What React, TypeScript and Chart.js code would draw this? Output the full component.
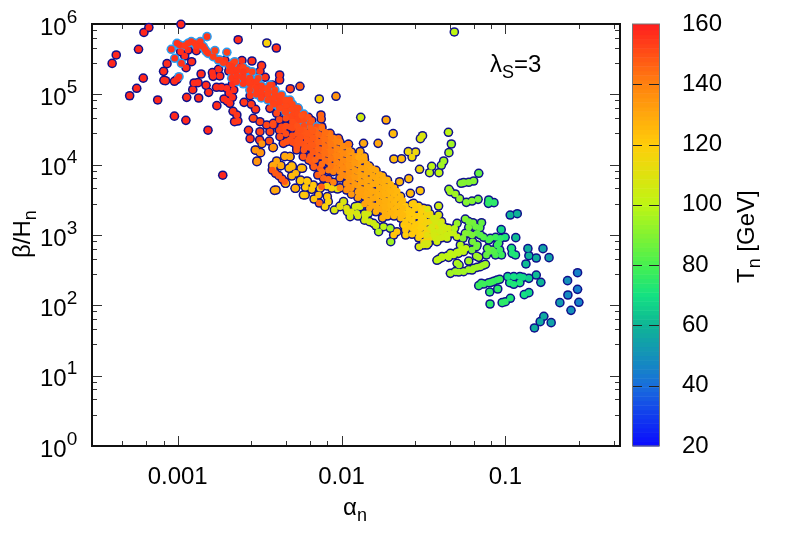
import React, { useEffect, useRef } from "react";
import { Chart, registerables } from "chart.js";
Chart.register(...registerables);

// each row: log10(alpha_n), log10(beta/H_n), T_n [GeV]
const ridgePoints: number[][] = [
[-3.039,5.64,156],[-3.004,5.725,156],[-2.988,5.701,156],[-2.957,5.692,155],[-2.917,5.749,155],[-2.896,5.725,155],[-2.862,5.749,155],[-2.821,5.82,155],[-2.844,5.678,155],[-3.018,5.512,156],[-2.977,5.44,156],[-2.992,5.251,157],[-2.773,5.621,153],[-2.7,5.597,153],[-2.825,5.607,153],[-2.743,5.488,153],[-2.662,5.441,153],[-2.631,5.346,153],[-2.58,5.346,153],[-2.61,5.251,153],[-2.56,5.227,153],[-2.539,5.133,153],[-2.478,5.085,153],[-2.448,5.038,152],[-2.407,5.062,152],[-2.376,4.943,152],[-2.346,4.896,152],[-2.315,4.848,152],[-2.274,4.777,151],[-2.234,4.682,151],[-2.193,4.588,150],[-2.152,4.54,150],
[-2.652,5.464,153],[-2.6,5.384,153],[-2.546,5.322,153],[-2.508,5.227,153],[-2.437,5.133,153],[-2.366,4.991,152],[-2.315,4.919,152],[-2.264,4.801,151],
];
const ridgeCore: number[][] = [
[-2.641,5.322,154],[-2.6,5.275,154],[-2.58,5.18,154],[-2.549,5.18,154],[-2.518,5.038,153],[-2.437,4.943,153],[-2.417,4.872,153],[-2.376,4.825,152],[-2.335,4.777,152],[-2.294,4.706,151],[-2.254,4.635,151],
[-2.937,5.725,155],[-2.886,5.687,155],[-2.855,5.687,155],[-2.834,5.64,155],[-2.814,5.583,155],[-2.783,5.535,154],[-2.752,5.488,154],[-2.722,5.45,154],[-2.681,5.403,154],
];
const ridgeColA = [-2.67,-2.64,-2.6,-2.56,-2.52,-2.49,-2.45,-2.41,-2.38,-2.34,-2.3,-2.27,-2.23];
const ridgeColB = [
[5.4,5.32,5.23],[5.35,5.26,5.18],[5.32,5.23,5.15],[5.23,5.15,5.06],[5.18,5.09,5.0],[5.12,5.03,4.95],[5.09,5.0,4.92],[5.03,4.95,4.86],[4.98,4.89,4.81],[4.92,4.83,4.75],[4.86,4.78,4.69],[4.81,4.72,4.64],[4.72,4.64,4.55],
];
const ridgeColT = [155,155,155,154,154,154,153,153,153,152,152,152,151];
const bandColA = [-2.38,-2.34,-2.3,-2.27,-2.23,-2.19,-2.16,-2.12,-2.08,-2.05,-2.01,-1.97,-1.94,-1.9,-1.86,-1.83,-1.79,-1.75,-1.72,-1.68,-1.64,-1.61,-1.57,-1.53,-1.5,-1.46,-1.42,-1.39];
const bandColB = [
[4.64,4.49],[4.66,4.55,4.44],[4.61,4.52,4.41,4.32],[4.55,4.44,4.35,4.27],[4.49,4.41,4.29,4.21],[4.52,4.44,4.32,4.24,4.12],[4.49,4.38,4.27,4.18,4.07],[4.52,4.41,4.32,4.21,4.12,4.01,3.9],[4.44,4.35,4.24,4.15,4.04,3.92],[4.38,4.29,4.18,4.09,3.98,3.9,3.75],[4.32,4.21,4.12,4.01,3.9,3.81,3.67],[4.27,4.15,4.04,3.95,3.84,3.73,3.64],[4.18,4.07,3.98,3.87,3.78,3.67,3.58],[4.12,4.01,3.9,3.81,3.7,3.61,3.53],[4.07,3.95,3.84,3.75,3.64,3.55,3.44],[3.98,3.9,3.78,3.67,3.58,3.47,3.38],[3.92,3.81,3.73,3.61,3.53,3.41,3.33],[3.84,3.75,3.64,3.55,3.44,3.36,3.24],[3.78,3.67,3.58,3.47,3.38,3.27],[3.67,3.58,3.47,3.36,3.27],[3.55,3.44,3.33,3.24],[3.41,3.3,3.19,3.07],[3.44,3.33,3.21,3.1,3.01],[3.41,3.27,3.16,3.04,2.96],[3.36,3.24,3.13,3.01,2.9],[3.3,3.19,3.07,2.96],[3.24,3.13,3.01],[3.19,3.07,2.96],
];
const bandColT = [152,151,151,150,149,148,146,144,142,140,138,136,134,132,131,130,129,128,127,126,125,122,121,119,117,114,112,109];
const innerColA = [-2.25,-2.21,-2.175,-2.14,-2.1,-2.065,-2.03,-1.99,-1.955,-1.92,-1.88,-1.845,-1.81,-1.77,-1.735,-1.7,-1.66,-1.625,-1.59,-1.55,-1.515,-1.48,-1.44,-1.405];
const innerColB = [
[4.5,4.39,4.31],[4.45,4.35,4.25],[4.48,4.38,4.28,4.18],[4.43,4.32,4.22,4.12],[4.46,4.36,4.26,4.16,4.06],[4.39,4.29,4.19,4.09,3.98],[4.33,4.23,4.13,4.03,3.94],[4.26,4.16,4.06,3.95,3.85],[4.21,4.09,3.99,3.89,3.78,3.68],[4.12,4.02,3.92,3.82,3.72],[4.06,3.95,3.85,3.75,3.65,3.57],[4.01,3.89,3.79,3.69,3.59,3.49],[3.94,3.84,3.72,3.62,3.52,3.42],[3.86,3.77,3.67,3.57,3.47,3.37],[3.79,3.69,3.59,3.49,3.4,3.3],[3.72,3.62,3.52,3.42,3.32],[3.62,3.52,3.41,3.31],[3.49,3.38,3.28],[3.35,3.24,3.13],[3.38,3.27,3.15,3.05],[3.34,3.21,3.1,3.0],[3.3,3.18,3.07,2.95],[3.24,3.13,3.01],[3.18,3.07],
];
const innerColT = [150,149,148,146,144,142,140,138,136,134,132,131,130,129,128,127,126,125,122,121,119,117,114,112];
const yellowStrand: number[][] = [
[-2.01,3.41,112],[-1.97,3.38,110],[-1.94,3.33,110],[-1.9,3.41,108],[-1.9,3.27,108],[-1.86,3.3,106],[-1.86,3.21,106],[-1.83,3.19,105],[-1.79,3.13,104],
];
const redScatter: number[][] = [
[-3.4,5.44,158],[-3.375,5.56,158],[-3.239,5.64,158],[-3.206,5.88,158],[-3.176,5.95,158],[-2.98,5.995,158],[-3.293,4.98,158],[-3.25,5.086,158],[-3.21,5.23,158],[-3.122,4.92,158],[-3.02,4.69,158],[-2.95,4.63,158],[-2.815,4.49,158],[-2.725,3.85,158],
[-3.065,5.436,157],[-3.086,5.327,157],[-3.084,5.199,157],[-3.074,5.194,157],[-3.02,5.185,157],[-3.004,5.213,157],[-2.982,5.607,157],[-2.937,5.63,157],[-2.886,5.621,157],[-2.957,5.545,157],[-2.915,5.464,157],[-2.949,5.379,157],[-2.857,5.289,157],[-2.945,4.957,157],[-2.908,5.066,157],[-2.9,5.161,157],[-2.876,5.166,157],[-2.872,4.948,157],[-2.827,5.128,157],[-2.811,5.028,157],[-2.761,4.839,157],[-2.763,5.1,157],[-2.733,5.1,157],[-2.7,5.085,157],[-2.666,5.147,157],[-2.658,5.062,157],[-2.686,5.014,157],[-2.666,4.957,157],[-2.717,4.934,157],[-2.698,4.905,157],[-2.682,4.872,157],[-2.788,5.308,157],[-2.784,5.256,157],[-2.743,5.261,157],[-2.751,5.355,157],[-2.712,5.483,156],[-2.688,5.417,156],[-2.688,5.332,156],[-2.62,5.393,156],[-2.608,5.479,156],[-2.547,5.474,156],[-2.488,5.408,155],[-2.498,5.327,155],[-2.466,5.242,155],[-2.378,5.275,155],[-2.378,5.204,155],[-2.423,5.133,155],[-2.505,5.118,155],[-2.493,5.014,155],[-2.482,4.991,155],[-2.558,4.981,155],[-2.595,4.886,155],[-2.551,4.858,155],[-2.525,4.787,155],[-2.662,4.758,155],[-2.639,4.706,155],[-2.653,4.611,155],[-2.633,4.621,155],[-2.568,4.488,155],[-2.558,4.37,155],[-2.5,4.351,152],[-2.631,5.777,157],[-2.398,5.659,156],[-2.313,5.08,153],[-2.254,5.114,148],
];
const outliers: number[][] = [
[-2.034,4.972,135],[-2.456,5.73,118],[-2.136,4.934,118],[-2.486,4.299,135],[-2.441,4.336,150],[-2.419,4.242,135],[-2.523,4.204,135],[-2.497,4.17,135],[-2.517,4.043,135],[-1.312,5.887,100],
];
const orangeLower: number[][] = [
[-2.413,3.995,133],[-2.37,3.986,133],[-2.417,3.924,133],[-2.347,4.114,131],[-2.315,4.114,128],[-2.318,3.953,128],[-2.3,3.972,128],[-2.238,3.948,125],[-2.28,3.877,126],[-2.25,3.782,125],[-2.208,3.758,124],[-2.28,3.664,125],[-2.222,3.569,125],[-2.41,3.635,130],[-2.341,3.735,128],
[-2.515,4.052,135],[-2.527,4.209,135],[-2.494,4.171,135],[-2.4,3.64,130],[-2.416,4.246,130],[-2.346,4.123,130],[-2.315,4.114,130],[-2.396,4.052,130],[-2.372,3.986,130],[-2.421,3.986,130],[-2.343,3.735,128],[-2.284,3.664,128],[-2.321,3.948,125],[-2.304,3.986,125],[-2.247,3.948,125],[-2.304,3.839,125],[-2.252,3.768,122],[-2.211,3.768,122],[-2.221,3.678,122],[-2.172,3.711,122],[-2.233,3.569,122],[-2.182,3.649,122],[-2.168,3.512,122],[-2.131,3.664,122],[-2.141,3.569,125],[-2.087,3.545,122],[-2.101,3.403,118],[-2.081,3.474,118],[-2.09,3.697,118],[-2.06,3.664,118],[-2.025,3.654,110],[-2.044,3.355,108],[-2.009,3.403,108],[-1.988,3.474,108],[-1.964,3.332,108],[-1.948,3.261,105],[-1.917,3.403,105],[-1.887,3.403,105],[-1.907,3.308,105],[-1.856,3.261,105],[-1.805,3.166,105],[-1.836,3.308,105],[-1.774,3.047,98],[-1.744,3.118,100],[-1.703,3.095,95],[-1.7,2.905,95],
];
const redStreaks: number[][] = [
[-2.423,3.924,148],[-2.403,3.877,148],[-2.383,3.844,148],[-2.363,3.796,148],[-2.347,3.758,148],[-2.136,3.455,145],[-2.081,3.791,145],[-2.2,4.066,147],[-2.169,3.972,147],[-2.145,3.853,147],[-2.122,3.687,147],
];
const redBand: number[][] = [
[-2.437,4.801,152],[-2.396,4.73,152],[-2.376,4.801,152],[-2.346,4.754,152],[-2.315,4.682,152],[-2.243,4.701,150],[-2.202,4.673,150],[-2.182,4.626,149],[-2.126,4.706,146],[-2.124,4.649,146],
[-2.539,4.659,152],[-2.498,4.611,152],[-2.457,4.564,152],[-2.417,4.564,152],[-2.366,4.54,152],[-2.315,4.54,151],[-2.264,4.493,150],[-2.213,4.445,149],[-2.162,4.469,148],[-2.121,4.54,147],[-2.07,4.445,145],[-2.019,4.374,143],[-1.958,4.289,140],
[-2.498,4.469,152],[-2.437,4.469,152],[-2.376,4.398,151],[-2.335,4.327,150],[-2.284,4.303,150],[-2.223,4.256,149],[-2.152,4.303,148],[-2.111,4.398,147],[-2.07,4.303,145],[-2.019,4.209,143],[-1.968,4.161,141],[-1.907,4.09,138],
[-2.274,4.209,149],[-2.234,4.114,149],[-2.182,4.043,148],[-2.131,3.948,147],[-2.111,3.806,146],[-2.091,4.209,146],[-2.04,4.09,144],[-1.989,3.972,142],[-1.938,3.829,140],
[-2.417,4.588,151],[-2.356,4.493,151],[-2.295,4.588,150],[-2.254,4.445,150],[-2.213,4.398,149],[-2.315,4.351,150],[-2.356,4.303,150],[-2.274,4.256,150],
];
const yellowBlob: number[][] = [
[-1.5,3.379,120],[-1.56,3.45,121],[-1.519,3.284,120],[-1.57,3.213,120],[-1.621,3.142,121],[-1.662,3.047,122],[-1.682,3,122],[-1.609,3,120],[-1.55,3.118,118],[-1.499,3.213,117],[-1.581,3.308,121],[-1.468,3.284,115],[-1.609,3.095,120],
];
const yellowGreen: number[][] = [
[-1.438,3.213,112],[-1.397,3.142,110],[-1.459,3.095,112],[-1.418,3.047,110],[-1.377,3.047,108],[-1.479,3,112],[-1.346,3.095,105],
[-1.526,2.834,108],[-1.479,2.858,107],[-1.418,2.905,105],[-1.356,2.953,103],[-1.295,2.976,102],[-1.387,2.692,100],[-1.336,2.739,100],[-1.285,2.763,98],[-1.295,2.597,98],[-1.275,2.858,98],
[-1.489,2.882,107],[-1.428,2.953,105],[-1.377,2.976,105],[-1.336,3.024,105],[-1.438,3.047,105],[-1.388,3.118,105],[-1.438,3.237,105],[-1.398,3.166,105],[-1.357,3.095,105],
[-1.5,2.858,107],[-1.47,2.882,107],[-1.408,2.953,105],[-1.357,3,104],[-1.316,3.024,102],[-1.438,3,106],[-1.398,3.047,105],[-1.448,3.118,107],[-1.428,3.19,107],[-1.377,3.118,105],[-1.408,3.284,108],
];
const upperRight: number[][] = [
[-1.883,4.673,105],[-1.728,4.635,130],[-1.685,4.441,125],[-1.506,4.412,108],[-1.519,4.37,108],[-1.348,4.46,100],[-1.33,4.294,95],[-1.345,4.171,97],[-1.377,4.052,95],[-1.391,3.991,95],[-1.406,3.886,100],[-1.45,3.976,100],[-1.463,3.886,100],[-1.593,4.185,115],[-1.548,4.18,115],[-1.57,4.109,115],[-1.681,4.081,125],[-1.634,4.085,125],[-1.777,4.303,130],[-1.866,4.303,130],[-1.887,4.185,130],[-1.862,4.114,130],[-1.896,4.104,130],[-1.958,4.289,140],[-1.524,3.934,115],[-1.59,3.801,125],[-1.646,3.758,125],[-1.58,3.592,125],[-1.52,3.63,122],[-1.408,3.412,105],[-1.475,3.37,110],
[-1.163,3.877,85],[-1.194,3.768,90],[-1.224,3.749,90],[-1.255,3.744,90],[-1.271,3.735,90],[-1.345,3.649,95],[-1.337,3.616,95],[-1.306,3.583,95],[-1.28,3.517,93],[-1.239,3.464,90],[-1.204,3.483,90],[-1.167,3.507,88],[-1.102,3.498,75],[-1.104,3.45,75],[-1.07,3.46,75],[-0.971,3.284,60],[-0.928,3.303,60],
];
const greenCluster: number[][] = [
[-1.295,3.166,93],[-1.245,3.227,90],[-1.198,3.175,88],[-1.146,3.175,85],[-1.224,3.109,88],[-1.156,3.104,85],[-1.173,3.024,85],[-1.224,3.024,88],[-1.259,2.953,90],[-1.2,2.905,88],[-1.177,2.834,88],[-1.133,2.967,82],[-1.102,2.929,80],[-1.06,2.967,78],[-1.002,2.967,72],[-1.03,2.953,75],[-1.05,2.858,78],[-1.035,2.787,78],[-1.024,2.716,78],[-1.061,2.716,80],[-1.102,2.763,85],[-1.116,2.716,85],[-1.081,2.787,85],[-1.31,3.095,98],
[-1.336,2.455,95],[-1.285,2.474,95],[-1.255,2.479,95],[-1.224,2.507,95],[-1.194,2.526,95],[-1.153,2.55,95],[-1.122,2.583,95],[-1.283,2.573,95],[-1.224,2.63,95],[-1.177,2.701,95],[-1.163,2.682,95],
[-1.418,2.64,100],[-1.388,2.678,100],[-1.357,2.701,100],[-1.327,2.725,100],[-1.297,2.754,100],[-1.266,2.796,100],[-1.241,2.81,100],
[-1.224,3.19,88],[-1.183,3.118,86],[-1.245,3.024,90],[-1.204,3,88],[-1.153,3,83],[-1.092,2.953,80],[-1.071,2.763,82],[-1.041,2.882,78],[-1.11,2.81,85],[-1.204,2.787,88],[-1.173,2.858,87],[-1.316,2.716,100],[-1.286,2.739,100],[-1.255,2.763,100],[-1.347,2.682,100],[-1.408,2.654,100],[-1.306,2.479,95],[-1.204,2.502,95],[-1.173,2.54,95],[-1.137,2.569,95],
];
const tealTail: number[][] = [
[-1.026,3.076,68],[-0.937,2.962,62],[-0.863,2.806,58],[-0.857,2.706,60],[-0.812,2.673,58],[-0.771,2.806,55],[-0.734,2.678,55],[-0.875,2.588,62],[-0.939,2.716,72],[-0.959,2.739,72],[-0.963,2.81,72],
[-0.56,2.464,46],[-0.621,2.351,50],[-0.56,2.227,45],[-0.619,2.147,48],[-0.552,2.043,46],[-0.668,2.038,53],[-0.6,1.929,50],[-0.766,1.844,57],[-0.788,1.768,57],[-0.721,1.754,55],[-0.823,1.678,58],
[-0.986,2.408,68],[-0.949,2.408,70],[-0.912,2.408,68],[-0.892,2.398,68],[-0.857,2.384,65],[-0.812,2.431,62],[-0.784,2.327,60],[-0.974,2.322,72],[-0.949,2.299,72],[-0.912,2.322,72],
[-1.163,2.28,78],[-1.147,2.313,78],[-1.133,2.303,78],[-1.102,2.322,78],[-1.088,2.327,78],[-1.072,2.341,78],[-1.051,2.36,76],[-1.035,2.37,78],[-1.096,2.19,75],[-1.047,2.232,75],[-1.094,2.019,75],[-1.02,2.038,75],[-1,2.052,75],[-0.97,2.1,72],[-0.885,2.152,70],[-0.857,2.18,68],
];

const paletteT = [20, 40, 60, 70, 80, 100, 120, 140, 160];
const paletteR = [10, 25, 15, 20, 70, 190, 255, 255, 255];
const paletteG = [10, 110, 180, 225, 240, 245, 205, 130, 30];
const paletteB = [255, 220, 150, 130, 80, 20, 10, 15, 30];
const xMajor = [0.001, 0.01, 0.1];
const xMinorFactors = [2.8, 4.6, 6.4, 8.2];
const yExponents = [0, 1, 2, 3, 4, 5, 6];
const FONT = '"Liberation Sans"';

function color(t: number): string {
  let i = 0;
  while (i < paletteT.length - 2 && t > paletteT[i + 1]) i++;
  const f = Math.max(0, Math.min(1, (t - paletteT[i]) / (paletteT[i + 1] - paletteT[i])));
  const m = (c: number[]) => Math.round(c[i] + (c[i + 1] - c[i]) * f);
  return `rgb(${m(paletteR)},${m(paletteG)},${m(paletteB)})`;
}
const toXY = (p: number[]) => ({ x: Math.pow(10, p[0]), y: Math.pow(10, p[1]) });
const columns = (a: number[], b: number[][], t: number[]) =>
  a.flatMap((la, i) => b[i].map((lb) => [la, lb, t[i]]));

// text runs: [text, size, baseline shift]
function runs(ctx: any, x: number, y: number, parts: [string, number, number][], rot = 0) {
  ctx.save();
  ctx.translate(x, y);
  ctx.rotate(rot);
  ctx.fillStyle = "#000";
  ctx.textAlign = "left";
  ctx.textBaseline = "alphabetic";
  let cx = 0;
  for (const [t, s, d] of parts) {
    ctx.font = `${s}px ${FONT}`;
    ctx.fillText(t, cx, d);
    cx += ctx.measureText(t).width;
  }
  ctx.restore();
}

const artPlugin = {
  id: "art",
  beforeDatasetsDraw(chart: any) {
    const { ctx, chartArea: a, scales } = chart;
    const { x, y, y2 } = scales;
    ctx.save();
    ctx.strokeStyle = "#333";
    ctx.lineWidth = 1;
    ctx.beginPath();
    for (const m of [0.0001, ...xMajor]) {
      [1, ...xMinorFactors].forEach((f, i) => {
        const v = m * f;
        if (v < x.min || v > x.max) return;
        const px = Math.round(x.getPixelForValue(v)) + 0.5;
        const len = i === 0 ? 10 : 5;
        ctx.moveTo(px, a.bottom); ctx.lineTo(px, a.bottom - len);
        ctx.moveTo(px, a.top); ctx.lineTo(px, a.top + len);
      });
    }
    for (const e of yExponents) {
      [1, ...xMinorFactors].forEach((f, i) => {
        const v = Math.pow(10, e) * f;
        if (v > y.max) return;
        const py = Math.round(y.getPixelForValue(v)) + 0.5;
        const len = i === 0 ? 10 : 5;
        ctx.moveTo(a.left, py); ctx.lineTo(a.left + len, py);
        ctx.moveTo(a.right, py); ctx.lineTo(a.right - len, py);
      });
    }
    ctx.stroke();
    ctx.strokeStyle = "#111";
    ctx.lineWidth = 2;
    ctx.strokeRect(a.left, a.top, a.right - a.left, a.bottom - a.top);
    const bl = 633, br = 659;
    for (let t = 20; t < 160; t += 1.5) {
      const top = y2.getPixelForValue(Math.min(160, t + 1.5));
      const bot = y2.getPixelForValue(t);
      ctx.fillStyle = color(t + 0.75);
      ctx.fillRect(bl, top, br - bl, bot - top + 0.5);
    }
    ctx.strokeStyle = "#777";
    ctx.lineWidth = 1;
    ctx.strokeRect(bl - 0.5, y2.top, br - bl + 1, y2.bottom - y2.top);
    ctx.strokeStyle = "#222";
    ctx.beginPath();
    for (let t = 40; t < 160; t += 20) {
      const py = Math.round(y2.getPixelForValue(t)) + 0.5;
      ctx.moveTo(bl, py); ctx.lineTo(bl + 9, py);
      ctx.moveTo(br - 10, py); ctx.lineTo(br, py);
    }
    ctx.stroke();
    ctx.restore();
    for (const e of yExponents) {
      const py = y.getPixelForValue(Math.pow(10, e));
      runs(ctx, 40, py + 10.5, [["10", 24, 0], [String(e), 19, -12]]);
    }
    runs(ctx, 343, 515, [["α", 24, 0], ["n", 18, 6]]);
    runs(ctx, 30, 258, [["β/H", 24, 0], ["n", 18, 6]], -Math.PI / 2);
    runs(ctx, 754, 283, [["T", 24, 0], ["n", 18, 6], [" [GeV]", 24, 0]], -Math.PI / 2);
    runs(ctx, 490, 72, [["λ", 24, 0], ["S", 18, 6], ["=3", 24, 0]]);
  },
};

const ridgeFill = columns(ridgeColA, ridgeColB, ridgeColT);
const bandFill = columns(bandColA, bandColB, bandColT);
const innerFill = columns(innerColA, innerColB, innerColT);
const navyPoints = [redScatter, redBand, bandFill, yellowStrand, orangeLower, outliers, redStreaks, yellowBlob, yellowGreen, upperRight, greenCluster, tealTail].flat();
const allPoints = [redScatter, ridgePoints, ridgeCore, ridgeFill, redBand, orangeLower, outliers, redStreaks, yellowBlob, yellowStrand, bandFill, innerFill, yellowGreen, upperRight, greenCluster, tealTail].flat();
const ringPoints = [ridgePoints, ridgeCore, ridgeFill].flat();

export default function App() {
  const ref = useRef<HTMLCanvasElement>(null);
  useEffect(() => {
    const chart = new Chart(ref.current!, {
      type: "scatter",
      data: {
        datasets: [
          { label: "fill", data: allPoints.map(toXY), pointRadius: 3.3, pointBorderWidth: 0, backgroundColor: allPoints.map((p) => color(p[2])), clip: false, order: 1 },
          { label: "ridge", data: ringPoints.map(toXY), pointRadius: 4.8, pointBorderWidth: 0, backgroundColor: "#2a9df0", clip: false, order: 2 },
          { label: "outline", data: navyPoints.map(toXY), pointRadius: 4.8, pointBorderWidth: 0, backgroundColor: "#10108c", clip: false, order: 3 },
        ],
      },
      options: {
        responsive: false,
        animation: false,
        layout: { padding: { top: 24, left: 0, right: 0, bottom: 0 } },
        plugins: { legend: { display: false }, tooltip: { enabled: false } },
        scales: {
          x: {
            type: "logarithmic",
            min: 0.0003,
            max: 0.5,
            grid: { display: false },
            border: { display: false },
            afterBuildTicks: (s: any) => { s.ticks = xMajor.map((value) => ({ value })); },
            afterFit: (s: any) => { s.height = 105; s.paddingLeft = 0; s.paddingRight = 0; },
            ticks: {
              autoSkip: false,
              maxRotation: 0,
              padding: 9,
              color: "#000",
              font: { family: FONT, size: 24 },
              callback: (v: any) => String(v),
            },
          },
          y: {
            type: "logarithmic",
            min: 1,
            max: 1000000,
            grid: { display: false },
            border: { display: false },
            ticks: { display: false },
            afterFit: (s: any) => { s.width = 92; s.paddingTop = 0; s.paddingBottom = 0; },
          },
          y2: {
            type: "linear",
            position: "right",
            min: 20,
            max: 160,
            grid: { display: false, drawTicks: false },
            border: { display: false },
            afterFit: (s: any) => { s.width = 169; s.paddingTop = 0; s.paddingBottom = 0; },
            ticks: { stepSize: 20, padding: 62, color: "#000", font: { family: FONT, size: 24 } },
          },
        },
      },
      plugins: [artPlugin],
    } as any);
    return () => chart.destroy();
  }, []);
  return <canvas ref={ref} width={789} height={551} style={{ position: "absolute", left: 0, top: 0 }} />;
}
